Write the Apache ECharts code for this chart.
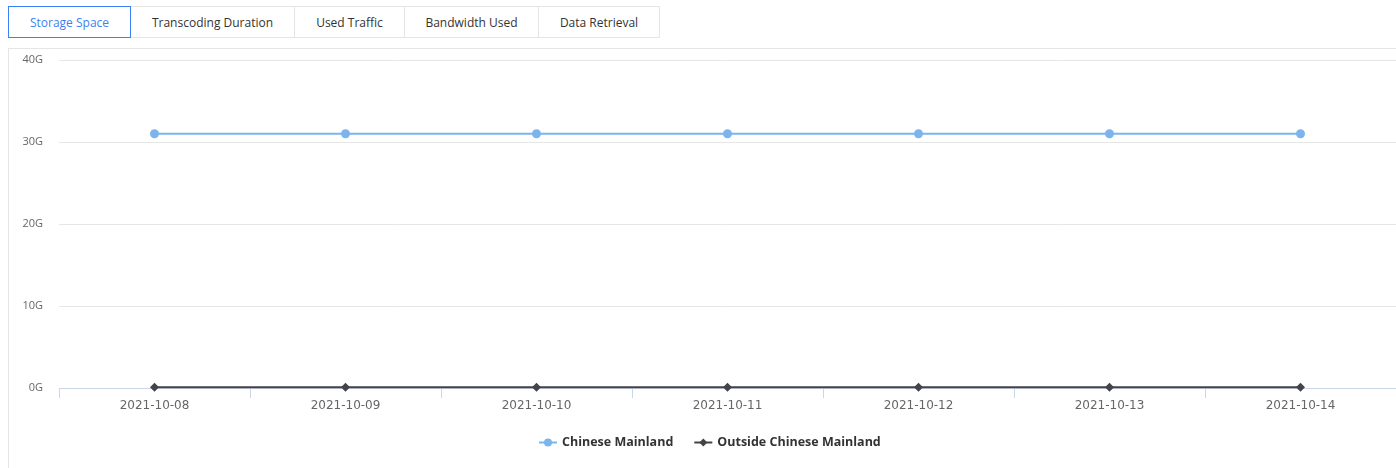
<!DOCTYPE html>
<html><head><meta charset="utf-8">
<script src="https://cdn.jsdelivr.net/npm/echarts@6/dist/echarts.min.js"></script>
<style>
html,body{margin:0;padding:0;background:#fff;width:1396px;height:468px;overflow:hidden;font-family:"Open Sans","Noto Sans",sans-serif;}
#tabs{position:absolute;left:8px;top:6px;height:32px;display:flex;}
.tab{box-sizing:border-box;height:32px;line-height:31px;font-size:12px;color:#333;border:1px solid #e5e5e5;border-left:none;text-align:center;background:#fff;}
.tab.first{border-left:1px solid #e5e5e5;}
.tab.active{color:#3d7ff5;border:1px solid #3d7ff5;}
#box{position:absolute;left:8px;top:48px;width:1400px;height:430px;border:1px solid #e5e5e5;box-sizing:border-box;}
#chart{position:absolute;left:0;top:0;width:1396px;height:468px;}
</style></head>
<body>
<div id="tabs"></div>
<div id="box"></div>
<div id="chart"></div>
<script>
const tabNames = ["Storage Space","Transcoding Duration","Used Traffic","Bandwidth Used","Data Retrieval"];
const categories = ["2021-10-08","2021-10-09","2021-10-10","2021-10-11","2021-10-12","2021-10-13","2021-10-14"];
const mainlandValues = [31,31,31,31,31,31,31];
const outsideValues = [0.1,0.1,0.1,0.1,0.1,0.1,0.1];
const seriesNames = ["Chinese Mainland","Outside Chinese Mainland"];

const tabWidths = [123,164,110,134,121];
const tabsEl = document.getElementById('tabs');
tabNames.forEach((n,i)=>{
  const d=document.createElement('div');
  d.className='tab'+(i===0?' active first':'');
  d.style.width=tabWidths[i]+'px';
  d.textContent=n;
  tabsEl.appendChild(d);
});

const chart = echarts.init(document.getElementById('chart'));
chart.setOption({
  animation:false,
  grid:{left:59,top:60,right:0,height:328,containLabel:false},
  legend:{
    left:533, top:431, itemGap:20, itemWidth:18, itemHeight:10,
    textStyle:{fontFamily:"Open Sans",fontWeight:'bold',fontSize:12.5,color:'#333'},
    data:seriesNames
  },
  xAxis:{
    type:'category', data:categories, boundaryGap:true,
    axisLine:{lineStyle:{color:'#ccd6eb',width:1}},
    axisTick:{show:true,length:10,lineStyle:{color:'#ccd6eb'}},
    axisLabel:{color:'#666',fontFamily:"DejaVu Sans",fontSize:12,margin:12}
  },
  yAxis:{
    type:'value', min:0, max:40, interval:10,
    axisLine:{show:false}, axisTick:{show:false},
    splitLine:{lineStyle:{color:'#e6e6e6'}},
    axisLabel:{formatter:v=>v+'G',color:'#666',fontFamily:"Open Sans",fontSize:11,margin:16}
  },
  series:[
    {name:seriesNames[0],type:'line',data:mainlandValues,symbol:'circle',symbolSize:9,
     itemStyle:{color:'#7cb5ec'},lineStyle:{width:2,color:'#7cb5ec'}},
    {name:seriesNames[1],type:'line',data:outsideValues,symbol:'diamond',symbolSize:9,
     itemStyle:{color:'#434348'},lineStyle:{width:2,color:'#434348'}}
  ]
});
</script>
</body></html>
